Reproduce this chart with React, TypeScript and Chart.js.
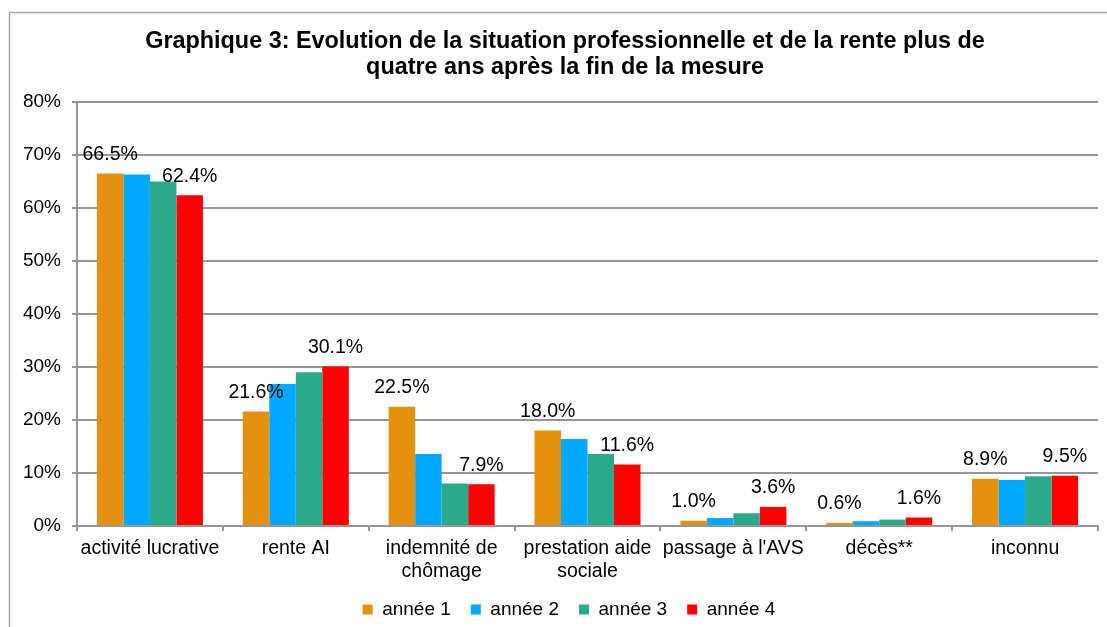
import React, { useEffect, useRef } from "react";
import { Chart, registerables } from "chart.js";

Chart.register(...registerables);

const titleLines = [
  "Graphique 3: Evolution de la situation professionnelle et de la rente plus de",
  "quatre ans après la fin de la mesure",
];
const categories: (string | string[])[] = [
  "activité lucrative",
  "rente AI",
  ["indemnité de", "chômage"],
  ["prestation aide", "sociale"],
  "passage à l'AVS",
  "décès**",
  "inconnu",
];
const seriesNames = ["année 1", "année 2", "année 3", "année 4"];
const annee1 = [66.5, 21.6, 22.5, 18.0, 1.0, 0.6, 8.9];
const annee2 = [66.3, 26.8, 13.6, 16.4, 1.5, 0.9, 8.7];
const annee3 = [65.0, 29.0, 8.0, 13.6, 2.4, 1.2, 9.4];
const annee4 = [62.4, 30.1, 7.9, 11.6, 3.6, 1.6, 9.5];
const labelledSeries = [0, 3];
const yMin = 0;
const yMax = 80;
const yStep = 10;

const colors = ["#E3910F", "#00A8FF", "#2CA88A", "#FF0000"];
const gridColor = "#969696";
const FONT = "'Liberation Sans', Arial, sans-serif";

const framePlugin = {
  id: "frameTitle",
  beforeDraw(chart: any) {
    const ctx = chart.ctx;
    ctx.save();
    ctx.fillStyle = "#ffffff";
    ctx.fillRect(0, 0, chart.width, chart.height);
    ctx.strokeStyle = "#a8a8a8";
    ctx.lineWidth = 1.5;
    ctx.beginPath();
    ctx.moveTo(9.5, chart.height);
    ctx.lineTo(9.5, 12.5);
    ctx.lineTo(chart.width, 12.5);
    ctx.stroke();
    ctx.fillStyle = "#000000";
    ctx.font = `bold 23.4px ${FONT}`;
    ctx.textAlign = "center";
    ctx.textBaseline = "middle";
    titleLines.forEach((t, i) => ctx.fillText(t, 565, 42 + i * 26));
    ctx.restore();
    // nudge the legend into its place
    const lg = chart.legend;
    if (lg) {
      lg.top -= 10;
      lg.bottom = chart.height;
      lg.left += 20;
      lg.right += 20;
    }
  },
};

const valueLabelPlugin = {
  id: "valueLabels",
  afterDatasetsDraw(chart: any) {
    const ctx = chart.ctx;
    ctx.save();
    ctx.fillStyle = "#000000";
    ctx.font = `19.5px ${FONT}`;
    ctx.textAlign = "center";
    ctx.textBaseline = "middle";
    labelledSeries.forEach((di) => {
      const meta = chart.getDatasetMeta(di);
      const data = chart.data.datasets[di].data as number[];
      meta.data.forEach((bar: any, i: number) => {
        ctx.fillText(data[i].toFixed(1) + "%", bar.x, bar.y - 19);
      });
    });
    ctx.restore();
  },
};

export default function App() {
  const ref = useRef<HTMLCanvasElement>(null);
  useEffect(() => {
    document.body.style.margin = "0";
    const series = [annee1, annee2, annee3, annee4];
    const chart = new Chart(ref.current!, {
      type: "bar",
      data: {
        labels: categories,
        datasets: series.map((d, i) => ({
          label: seriesNames[i],
          data: d,
          backgroundColor: colors[i],
          borderWidth: 0,
          categoryPercentage: 0.727,
          barPercentage: 1,
        })),
      },
      options: {
        animation: false,
        responsive: false,
        maintainAspectRatio: false,
        layout: { padding: { top: 102, left: 0, right: 9, bottom: 7 } },
        font: { family: FONT },
        plugins: {
          title: { display: false },
          tooltip: { enabled: false },
          legend: {
            position: "bottom",
            maxHeight: 30,
            labels: {
              boxWidth: 10,
              boxHeight: 10,
              padding: 20,
              color: "#000",
              font: { family: FONT, size: 19 },
            },
          },
        },
        scales: {
          x: {
            afterFit(scale: any) {
              scale.height = 64;
            },
            grid: {
              display: true,
              offset: true,
              drawOnChartArea: false,
              drawTicks: true,
              tickLength: 5,
              color: gridColor,
              lineWidth: 2,
            },
            border: { display: true, color: gridColor, width: 2 },
            ticks: {
              color: "#000",
              padding: 6,
              maxRotation: 0,
              autoSkip: false,
              font: { family: FONT, size: 19.5, lineHeight: 1.2 },
            },
          },
          y: {
            min: yMin,
            max: yMax,
            afterFit(scale: any) {
              scale.width = 77;
            },
            grid: {
              color: gridColor,
              lineWidth: 2,
              drawTicks: true,
              tickLength: 5,
            },
            border: { display: true, color: gridColor, width: 2 },
            ticks: {
              stepSize: yStep,
              color: "#000",
              padding: 11,
              font: { family: FONT, size: 19 },
              callback: (v: any) => v + "%",
            },
          },
        },
      },
      plugins: [framePlugin, valueLabelPlugin],
    });
    return () => chart.destroy();
  }, []);
  return (
    <div style={{ position: "absolute", left: 0, top: 0, width: 1107, height: 627 }}>
      <canvas ref={ref} width={1107} height={627} />
    </div>
  );
}
